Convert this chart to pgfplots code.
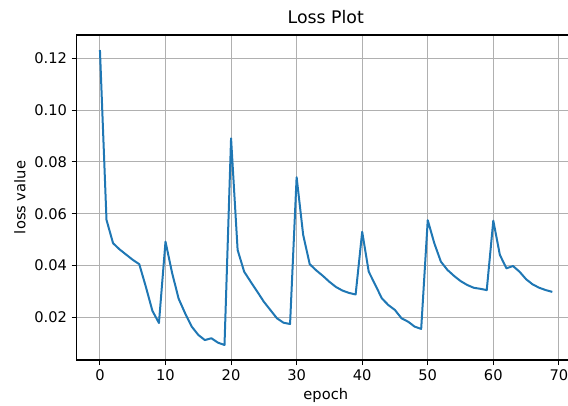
\documentclass[border=0pt]{standalone}
\usepackage{pgfplots}
\pgfplotsset{compat=1.18}
\usepackage{fontspec}
\setmainfont{DejaVu Sans}
\definecolor{mplblue}{HTML}{1F77B4}
\definecolor{mplgrid}{HTML}{B0B0B0}
\pgfplotstableread{
epoch loss
0 0.1232
1 0.0576
2 0.0486
3 0.0462
4 0.0442
5 0.0422
6 0.0405
7 0.0318
8 0.0225
9 0.0178
10 0.0492
11 0.0372
12 0.0272
13 0.0215
14 0.0164
15 0.0132
16 0.0112
17 0.0119
18 0.0102
19 0.0093
20 0.0891
21 0.0460
22 0.0376
23 0.0337
24 0.0299
25 0.0260
26 0.0228
27 0.0196
28 0.0179
29 0.0174
30 0.0741
31 0.0518
32 0.0405
33 0.0381
34 0.0360
35 0.0337
36 0.0317
37 0.0303
38 0.0294
39 0.0288
40 0.0530
41 0.0376
42 0.0325
43 0.0273
44 0.0247
45 0.0228
46 0.0196
47 0.0183
48 0.0164
49 0.0155
50 0.0575
51 0.0486
52 0.0415
53 0.0383
54 0.0360
55 0.0340
56 0.0325
57 0.0314
58 0.0310
59 0.0305
60 0.0573
61 0.0441
62 0.0389
63 0.0398
64 0.0376
65 0.0347
66 0.0327
67 0.0314
68 0.0305
69 0.0298
}\losstable
\begin{document}
\begin{tikzpicture}
\begin{axis}[
  at={(57.5pt,33.75pt)}, anchor=south west,
  scale only axis, width=373.7pt, height=243.75pt,
  xmin=-3.55, xmax=72.45, ymin=0.0035, ymax=0.129,
  xtick={0,10,...,70},
  ytick={0.02,0.04,0.06,0.08,0.10,0.12},
  yticklabel style={/pgf/number format/.cd, fixed, fixed zerofill, precision=2},
  /pgf/number format/assume math mode=true,
  scaled y ticks=false,
  tick label style={font=\fontsize{11}{13}\selectfont},
  tick align=outside, xtick pos=bottom, ytick pos=left,
  major tick length=3.75pt,
  tick style={black, line width=0.7pt},
  axis line style={black, line width=0.8pt},
  grid=major,
  major grid style={mplgrid, line width=0.7pt},
  title={Loss Plot},
  title style={font=\fontsize{13}{15}\selectfont, at={(axis description cs:0.5,1)}, anchor=south, yshift=-1pt},
  xlabel={epoch},
  xlabel style={font=\fontsize{11}{13}\selectfont, at={(axis description cs:0.5,0)}, anchor=north, yshift=-21pt, inner sep=0pt},
  clip mode=individual,
]
\addplot[mplblue, line width=1.5pt, line join=round] table[x=epoch, y=loss] {\losstable};
\node[font=\fontsize{11}{13}\selectfont, rotate=90, anchor=south, inner sep=0pt] at (axis description cs:-0.102,0.5) {loss value};
\end{axis}
\pgfresetboundingbox
\useasboundingbox (0,0) rectangle (426pt,303.75pt);
\end{tikzpicture}
\end{document}
